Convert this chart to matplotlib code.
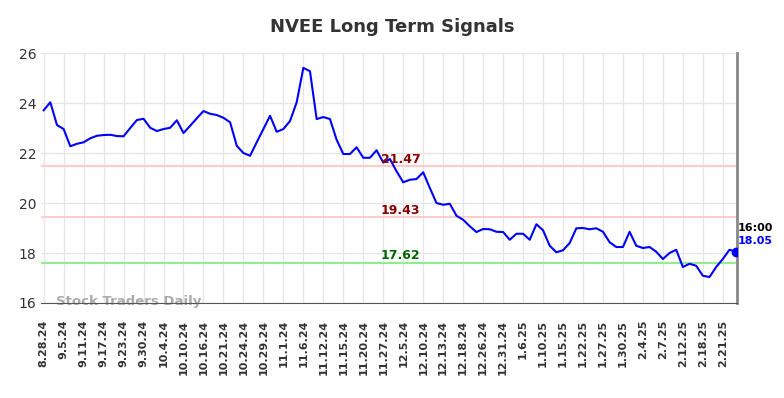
import matplotlib
matplotlib.use('Agg')
import matplotlib.pyplot as plt

# closing prices, one value per trading day
prices = [
    23.71, 24.03, 23.12, 22.96, 22.27, 22.37, 22.43, 22.59, 22.69, 22.72,
    22.73, 22.68, 22.67, 23.00, 23.32, 23.37, 23.01, 22.88, 22.96, 23.01,
    23.31, 22.80, 23.09, 23.39, 23.68, 23.57, 23.52, 23.41, 23.23, 22.29,
    22.00, 21.89, 22.43, 22.96, 23.49, 22.85, 22.96, 23.28, 24.03, 25.41,
    25.27, 23.36, 23.44, 23.36, 22.53, 21.96, 21.96, 22.23, 21.81, 21.81,
    22.11, 21.62, 21.76, 21.27, 20.83, 20.93, 20.96, 21.23, 20.60, 20.00,
    19.93, 19.97, 19.49, 19.33, 19.07, 18.84, 18.96, 18.95, 18.85, 18.84,
    18.53, 18.77, 18.77, 18.53, 19.15, 18.91, 18.29, 18.03, 18.11, 18.40,
    18.99, 19.00, 18.95, 18.99, 18.85, 18.43, 18.24, 18.24, 18.85, 18.29,
    18.20, 18.24, 18.05, 17.76, 18.00, 18.13, 17.44, 17.57, 17.49, 17.09,
    17.04, 17.44, 17.76, 18.13, 18.05,
]

tick_labels = [
    '8.28.24', '9.5.24', '9.11.24', '9.17.24', '9.23.24', '9.30.24', '10.4.24',
    '10.10.24', '10.16.24', '10.21.24', '10.24.24', '10.29.24', '11.1.24',
    '11.6.24', '11.12.24', '11.15.24', '11.20.24', '11.27.24', '12.5.24',
    '12.10.24', '12.13.24', '12.18.24', '12.26.24', '12.31.24', '1.6.25',
    '1.10.25', '1.15.25', '1.22.25', '1.27.25', '1.30.25', '2.4.25', '2.7.25',
    '2.12.25', '2.18.25', '2.21.25',
]
tick_step = 3

levels = [21.47, 19.43, 17.62]
level_colors = ['#ffcccc', '#ffcccc', '#90ee90']
level_text_colors = ['#8b0000', '#8b0000', '#006400']

last_time = '16:00'

fig = plt.figure(figsize=(7.84, 3.98), dpi=100)
ax = fig.add_axes([0.0523, 0.2387, 0.8875, 0.628])

x = list(range(len(prices)))
ax.plot(x, prices, color='#0000ff', lw=1.5, zorder=3)
ax.plot(x[-1], prices[-1], 'o', color='#0000ff', ms=6, zorder=4)

for lvl, c, tc in zip(levels, level_colors, level_text_colors):
    ax.axhline(lvl, color=c, lw=1.5, zorder=2)
    ax.text(53.6, lvl + 0.28, '%.2f' % lvl, color=tc, fontsize=9,
            fontweight='bold', ha='center', va='center', zorder=5)

ax.text(x[-1] + 0.2, prices[-1] + 0.95, last_time, color='black', fontsize=8,
        fontweight='bold', ha='left', va='center')
ax.text(x[-1] + 0.2, prices[-1] + 0.45, '%.2f' % prices[-1], color='#0000ff',
        fontsize=8, fontweight='bold', ha='left', va='center')

ax.text(1.8, 16.05, 'Stock Traders Daily', color='#aaaaaa', fontsize=9.5,
        fontweight='bold', ha='left', va='center', zorder=1)

ax.set_xlim(-0.4, 104.1)
ax.set_ylim(16, 26)
ax.set_yticks(range(16, 27, 2))
ax.set_xticks(range(0, len(tick_labels) * tick_step, tick_step))
ax.set_xticklabels(tick_labels, rotation=90, fontsize=8, fontweight='bold',
                   color='#333333')
ax.tick_params(axis='y', labelsize=10, colors='#333333', length=0)
ax.tick_params(axis='x', length=0, pad=12)
ax.grid(True, color='#e6e6e6', lw=1)
ax.set_axisbelow(True)

for s in ['top', 'left']:
    ax.spines[s].set_visible(False)
ax.spines['bottom'].set_color('#555555')
ax.spines['right'].set_color('#888888')
ax.spines['right'].set_linewidth(2)

fig.suptitle('NVEE Long Term Signals', x=0.5, y=0.955, fontsize=13,
             fontweight='bold', color='#333333')

fig.savefig('out.png', dpi=100)
